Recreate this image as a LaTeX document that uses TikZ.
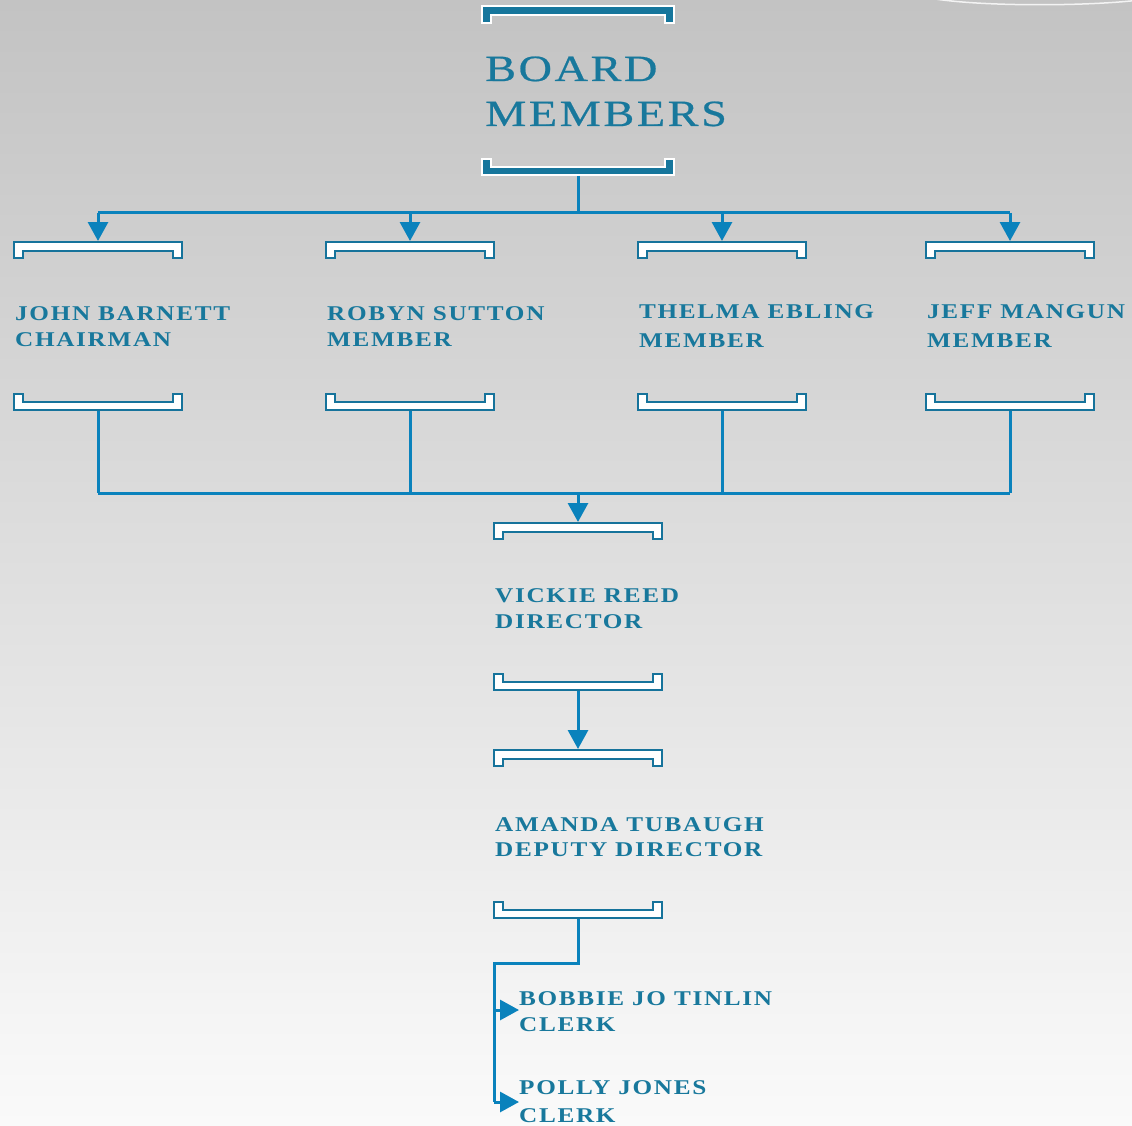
\documentclass[tikz,border=0pt]{standalone}
\usepackage{fontspec}
\usetikzlibrary{arrows.meta}
\newfontfamily\bigfont[FakeStretch=1.25,LetterSpace=7,FakeBold=0.6]{Liberation Serif}
\newfontfamily\smallfont[FakeStretch=1.2,LetterSpace=8]{Liberation Serif Bold}
\definecolor{txt}{RGB}{24,120,156}
\definecolor{lineblue}{RGB}{10,130,188}
\definecolor{brkblue}{RGB}{22,115,155}
\definecolor{boardblue}{RGB}{22,118,156}
\definecolor{bgtop}{RGB}{195,195,195}
\definecolor{bgbot}{RGB}{250,250,250}
\tikzset{
  brk/.style={draw=brkblue, fill=white, line width=1.8pt, line join=miter},
  boardbrk/.style={draw=white, fill=boardblue, line width=1.8pt, line join=miter},
  conn/.style={draw=lineblue, line width=3pt},
  arr/.style={conn, -{Triangle[length=19pt,width=20pt]}},
  nametext/.style={anchor=base west, inner sep=0pt, text=txt, font=\smallfont\fontsize{21pt}{25pt}\selectfont},
  titletext/.style={anchor=base west, inner sep=0pt, text=txt, font=\bigfont\fontsize{37pt}{44pt}\selectfont},
  topbrk/.pic={\path[brk] (-84,0) -- (84,0) -- (84,16) -- (75,16) -- (75,9) -- (-75,9) -- (-75,16) -- (-84,16) -- cycle;},
  botbrk/.pic={\path[brk] (-84,0) -- (84,0) -- (84,-16) -- (75,-16) -- (75,-8) -- (-75,-8) -- (-75,-16) -- (-84,-16) -- cycle;}
}
\begin{document}
\begin{tikzpicture}[x=1pt,y=-1pt]
\useasboundingbox (0,0) rectangle (1132,1126);
\shade[top color=bgtop, bottom color=bgbot] (0,0) rectangle (1132,1126);
\draw[white, line width=1.5pt, opacity=0.8] (935,-1) .. controls (990,7) and (1090,6) .. (1140,0);

% Board members
\path[boardbrk] (482,6) -- (674,6) -- (674,23) -- (665,23) -- (665,15) -- (491,15) -- (491,23) -- (482,23) -- cycle;
\path[boardbrk] (482,175) -- (674,175) -- (674,159) -- (665,159) -- (665,167) -- (491,167) -- (491,159) -- (482,159) -- cycle;
\coordinate (boardB) at (578,176);
\node[titletext] (board1) at (485,81) {BOARD};
\node[titletext] (board2) at (485,126) {MEMBERS};

% level 1 brackets
\foreach \n/\x in {john/98,robyn/410,thelma/722,jeff/1010}{
  \pic at (\x,242) {topbrk};
  \pic at (\x,410) {botbrk};
  \coordinate (\n T) at (\x,241);
  \coordinate (\n B) at (\x,411);
}
\node[nametext] (john1) at (15,320) {JOHN BARNETT};
\node[nametext] (john2) at (15,346) {CHAIRMAN};
\node[nametext] (robyn1) at (327,320) {ROBYN SUTTON};
\node[nametext] (robyn2) at (327,346) {MEMBER};
\node[nametext] (thelma1) at (639,318) {THELMA EBLING};
\node[nametext] (thelma2) at (639,347) {MEMBER};
\node[nametext] (jeff1) at (927,318) {JEFF MANGUN};
\node[nametext] (jeff2) at (927,347) {MEMBER};

% Vickie
\pic at (578,523) {topbrk};
\pic at (578,690) {botbrk};
\coordinate (vickieT) at (578,522);
\coordinate (vickieB) at (578,691);
\node[nametext] (vickie1) at (495,602) {VICKIE REED};
\node[nametext] (vickie2) at (495,628) {DIRECTOR};

% Amanda
\pic at (578,750) {topbrk};
\pic at (578,918) {botbrk};
\coordinate (amandaT) at (578,749);
\coordinate (amandaB) at (578,919);
\node[nametext] (amanda1) at (495,831) {AMANDA TUBAUGH};
\node[nametext] (amanda2) at (495,856) {DEPUTY DIRECTOR};

% clerks
\node[nametext] (bobbie1) at (519,1005) {BOBBIE JO TINLIN};
\node[nametext] (bobbie2) at (519,1031) {CLERK};
\node[nametext] (polly1) at (519,1094) {POLLY JONES};
\node[nametext] (polly2) at (519,1122) {CLERK};

% connectors
\coordinate (split) at (578,213);
\coordinate (merge) at (578,493);
\draw[conn] (boardB) -- (split);
\draw[conn] (johnT |- split) -- (jeffT |- split);
\foreach \n in {john,robyn,thelma,jeff}{
  \draw[arr] (\n T |- split) -- (\n T);
  \draw[conn] (\n B) -- (\n B |- merge);
}
\draw[conn] (johnB |- merge) -- (jeffB |- merge);
\draw[arr] (merge) -- (vickieT);
\draw[arr] (vickieB) -- (amandaT);
\coordinate (bend) at (578,963);
\coordinate (corner) at (494,963);
\coordinate (clerkA) at (494,1010);
\coordinate (clerkB) at (494,1102);
\draw[conn, line join=miter] (amandaB) -- (bend) -- (corner) -- (clerkB);
\draw[arr] (clerkA) -- (bobbie1.west |- clerkA);
\draw[arr] (clerkB) -- (polly1.west |- clerkB);
\end{tikzpicture}
\end{document}
